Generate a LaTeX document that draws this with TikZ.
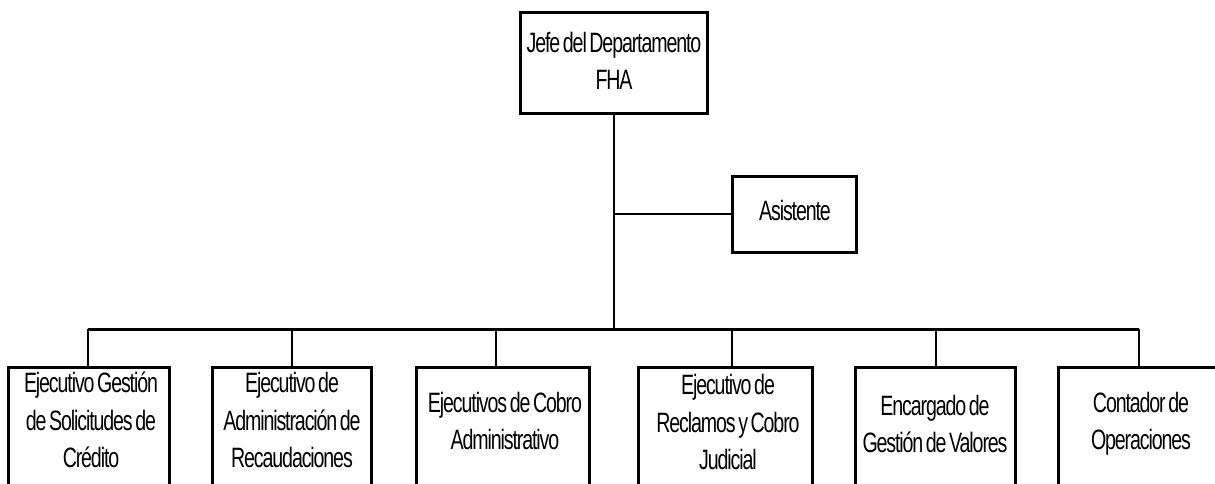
\documentclass[tikz,border=0pt]{standalone}
\usepackage{fontspec}
\usetikzlibrary{fit}
\newfontfamily\orgfont[FakeStretch=0.7,LetterSpace=-4,WordSpace=0.6]{Liberation Sans}
\begin{document}
\begin{tikzpicture}[x=0.75pt,y=-0.75pt,
  box/.style={draw=black,line width=2.25pt,inner sep=0pt},
  lbl/.style={font=\orgfont\fontsize{21}{28}\selectfont,align=center,inner sep=0pt},
  link/.style={draw=black,line width=1.8pt},
  bus/.style={draw=black,line width=2.25pt}]
\useasboundingbox (0,0) rectangle (1215,483);
\clip (0,0) rectangle (1215,483);

% head of department and assistant
\node[box,fit={(520,12) (707,113)}] (jefe) {};
\node[lbl] (tjefe) at (614,61) {Jefe del Departamento\\FHA};
\node[box,fit={(732,176) (856,252)}] (asis) {};
\node[lbl] (tasis) at (795,210) {Asistente};

% bus and drop points
\coordinate (jct) at (614,329);
\coordinate (d1) at (88,329);
\coordinate (d2) at (292,329);
\coordinate (d3) at (496,329);
\coordinate (d4) at (732,329);
\coordinate (d5) at (936,329);
\coordinate (d6) at (1139,329);

% bottom row of positions (boxes run past the lower edge)
\node[box,fit={(8,367) (169,540)}] (b1) {};
\node[box,fit={(212,367) (371,540)}] (b2) {};
\node[box,fit={(416,367) (589,540)}] (b3) {};
\node[box,fit={(638,367) (812,540)}] (b4) {};
\node[box,fit={(855,367) (1015,540)}] (b5) {};
\node[box,fit={(1058,367) (1220,540)}] (b6) {};

\node[lbl] (t1) at (91,420) {Ejecutivo Gestión\\de Solicitudes de\\Crédito};
\node[lbl] (t2) at (292,420) {Ejecutivo de\\Administración de\\Recaudaciones};
\node[lbl] (t3) at (505,421) {Ejecutivos de Cobro\\Administrativo};
\node[lbl] (t4) at (728,422) {Ejecutivo de\\Reclamos y Cobro\\Judicial};
\node[lbl] (t5) at (935,424) {Encargado de\\Gestión de Valores};
\node[lbl] (t6) at (1141,424) {Contador de\\Operaciones};

% connectors
\draw[link] (jefe.south -| jct) -- (jct);
\draw[link] (asis.west) -- (asis.west -| jct);
\draw[bus] (d1) -- (d6);
\foreach \i in {1,...,6}{
  \draw[link] (d\i) -- (d\i |- b\i.north);
}
\end{tikzpicture}
\end{document}
